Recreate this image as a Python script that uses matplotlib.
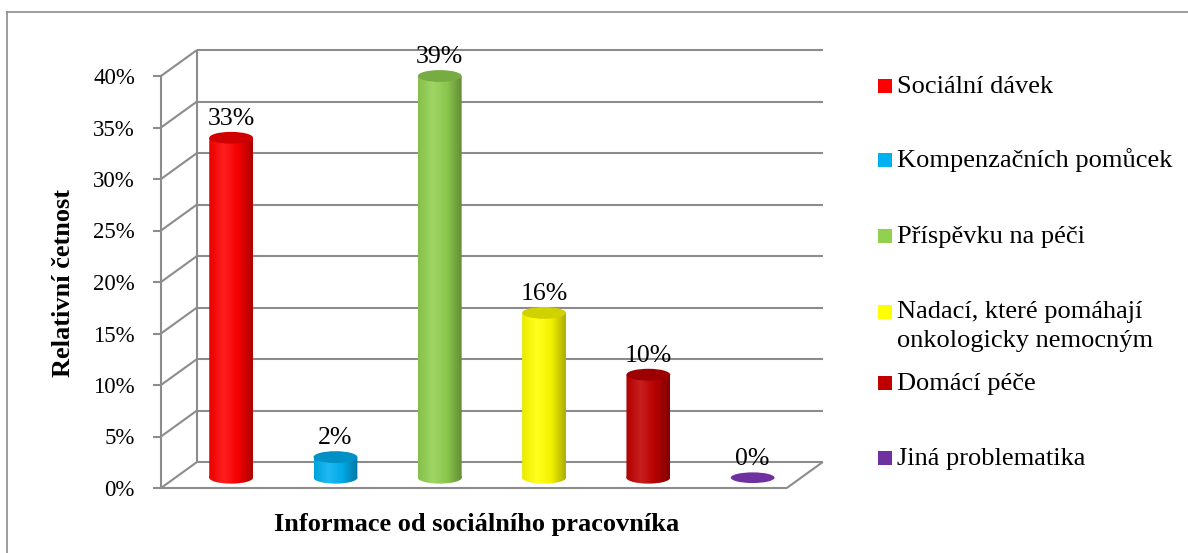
import matplotlib.pyplot as plt
import numpy as np
from matplotlib.patches import PathPatch, Ellipse, Rectangle
from matplotlib.path import Path
from matplotlib.transforms import Affine2D
from matplotlib.colors import to_rgb, LinearSegmentedColormap
from matplotlib.lines import Line2D

plt.rcParams['font.family'] = ['Liberation Serif', 'DejaVu Serif']

categories = ['Sociální dávek', 'Kompenzačních pomůcek', 'Příspěvku na péči',
              'Nadací, které pomáhají\nonkologicky nemocným', 'Domácí péče',
              'Jiná problematika']
values = [33, 2, 39, 16, 10, 0]
colors = ['#FF0000', '#00B0F0', '#92D050', '#FFFF00', '#C00000', '#7030A0']
yticks = [0, 5, 10, 15, 20, 25, 30, 35, 40]

W, H = 1188, 553
grid_col = '#8C8C8C'
px_y = 10.3                   # pixels per percent
px_x = 104.3                  # pixels per category
dx, dy = 36 / px_x, 26 / px_y  # depth offset of the back wall
base = 1.0                    # cylinders stand in the middle of the floor
bw, eh = 0.42, 1.15           # cylinder width, ellipse height

fig = plt.figure(figsize=(W / 100, H / 100), dpi=100)
ax = fig.add_axes([161 / W, 65 / H, 661 / W, 437 / H])
ax.set_xlim(-0.5, -0.5 + 661 / px_x)
ax.set_ylim(0, 437 / px_y)
for s in ['top', 'right', 'bottom']:
    ax.spines[s].set_visible(False)
ax.spines['left'].set_bounds(0, 40)
ax.spines['left'].set_color(grid_col)
ax.spines['left'].set_linewidth(1.5)
ax.set_xticks([])
ax.set_yticks(yticks)
ax.set_yticklabels([f'{t}%' for t in yticks], fontsize=16.5)
ax.tick_params(axis='y', direction='out', length=5.8, width=1.5, color=grid_col, pad=13)
ax.patch.set_alpha(0)

# back wall, side wall and floor
xmax = 5.5 + dx
kw = dict(color=grid_col, lw=1.5, clip_on=False, zorder=1, solid_capstyle='butt')
for t in yticks:
    ax.plot([-0.5 + dx, xmax], [t + dy, t + dy], **kw)
    ax.plot([-0.5, -0.5 + dx], [t, t + dy], **kw)
ax.plot([-0.5 + dx, -0.5 + dx], [dy, 40 + dy], **kw)
ax.plot([-0.5, 5.5], [0, 0], **kw)
ax.plot([5.5, xmax], [0, dy], **kw)


def shade(c, f):
    r = np.array(to_rgb(c))
    if f >= 1:
        return r + (1 - r) * (f - 1)
    return r * f


for i, (v, c) in enumerate(zip(values, colors)):
    cx = i + dx / 2
    top = base + v
    if v > 0:
        rect = Path.unit_rectangle().transformed(
            Affine2D().scale(bw, top - base).translate(cx - bw / 2, base))
        ell = Path.unit_circle().transformed(
            Affine2D().scale(bw / 2, eh / 2).translate(cx, base))
        body = Path.make_compound_path(rect, ell)
        clip = PathPatch(body, transform=ax.transData, fc='none', ec='none')
        ax.add_patch(clip)
        cmap = LinearSegmentedColormap.from_list(
            'cyl', [shade(c, 0.92), shade(c, 1.12), shade(c, 0.95), shade(c, 0.68)])
        grad = np.linspace(0, 1, 64).reshape(1, -1)
        im = ax.imshow(grad, cmap=cmap, aspect='auto', zorder=3,
                       extent=[cx - bw / 2, cx + bw / 2, base - eh / 2, top],
                       interpolation='bilinear')
        im.set_clip_path(clip)
        ax.add_patch(Ellipse((cx, top), bw, eh, fc=shade(c, 0.82), ec='none', zorder=4))
    else:
        ax.add_patch(Ellipse((cx, top), bw, eh * 0.9, fc=c, ec='none', zorder=4))
    ax.text(cx, top + eh / 2 + 0.2, f'{v}%', ha='center', va='bottom',
            fontsize=18.5, zorder=5)

fig.text(64 / W, 1 - 283 / H, 'Relativní četnost', rotation=90, ha='center',
         va='center', fontsize=19, fontweight='bold')
fig.text(477 / W, 1 - 525 / H, 'Informace od sociálního pracovníka',
         ha='center', va='center', fontsize=19, fontweight='bold')

# legend
leg_y = [86, 160, 236, 312, 383, 458]
line_px = 28
for lab, c, yy in zip(categories, colors, leg_y):
    fig.patches.append(Rectangle((878 / W, 1 - (yy + 7) / H), 14 / W, 14 / H,
                                 transform=fig.transFigure, fc=c, ec='none'))
    last_base = yy + 7 + line_px * lab.count('\n')
    fig.text(897 / W, 1 - last_base / H, lab, ha='left', va='baseline',
             fontsize=19, linespacing=1.4)

# chart frame
fig.add_artist(Line2D([7 / W, 7 / W], [0, 1 - 12 / H], color=grid_col,
                      lw=1.2, transform=fig.transFigure))
fig.add_artist(Line2D([7 / W, 1], [1 - 12 / H, 1 - 12 / H], color=grid_col,
                      lw=1.2, transform=fig.transFigure))

fig.savefig('out.png', dpi=100)
